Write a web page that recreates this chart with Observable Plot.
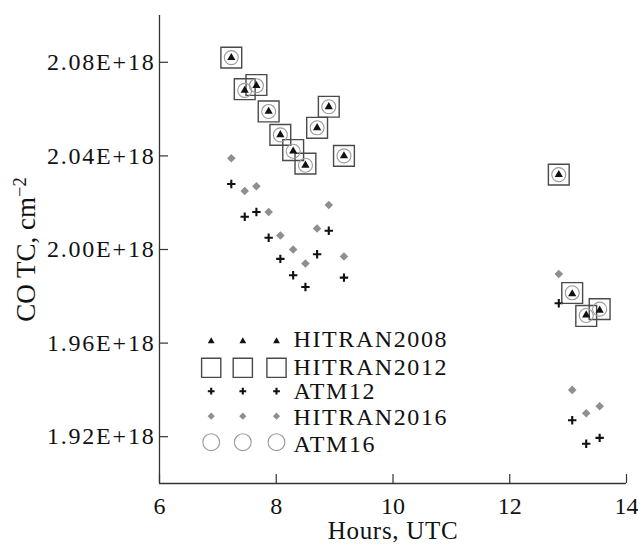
<!DOCTYPE html>
<html>
<head>
<meta charset="utf-8">
<script src="https://cdn.jsdelivr.net/npm/d3@7"></script>
<script src="https://cdn.jsdelivr.net/npm/@observablehq/plot@0.6"></script>
<style>
  html, body { margin: 0; padding: 0; background: #fff; }
  #chart { width: 638px; height: 544px; }
</style>
</head>
<body>
<div id="chart"></div>
<script>
// ---- data ----
const hours = [7.23, 7.46, 7.66, 7.87, 8.07, 8.29, 8.50, 8.70, 8.90, 9.16, 12.84, 13.07, 13.31, 13.54];
const hitran2008 = [2.082e18, 2.068e18, 2.070e18, 2.059e18, 2.049e18, 2.042e18, 2.036e18, 2.052e18, 2.061e18, 2.040e18, 2.032e18, 1.981e18, 1.972e18, 1.974e18];
const hitran2012 = [2.082e18, 2.0685e18, 2.0703e18, 2.059e18, 2.049e18, 2.0425e18, 2.0367e18, 2.052e18, 2.061e18, 2.040e18, 2.032e18, 1.9814e18, 1.9716e18, 1.9745e18];
const atm12 = [2.028e18, 2.014e18, 2.016e18, 2.005e18, 1.996e18, 1.989e18, 1.984e18, 1.998e18, 2.008e18, 1.988e18, 1.977e18, 1.927e18, 1.917e18, 1.9195e18];
const hitran2016 = [2.039e18, 2.025e18, 2.027e18, 2.016e18, 2.006e18, 2.000e18, 1.994e18, 2.009e18, 2.019e18, 1.997e18, 1.9895e18, 1.940e18, 1.930e18, 1.933e18];
const atm16 = [2.082e18, 2.068e18, 2.070e18, 2.059e18, 2.049e18, 2.042e18, 2.036e18, 2.052e18, 2.061e18, 2.040e18, 2.032e18, 1.9815e18, 1.9718e18, 1.9745e18];

const xTicks = [6, 8, 10, 12, 14];
const yTicks = [1.92e18, 1.96e18, 2.00e18, 2.04e18, 2.08e18];
const seriesNames = ["HITRAN2008", "HITRAN2012", "ATM12", "HITRAN2016", "ATM16"];
const xTitle = "Hours, UTC";
const yTitle = "CO TC, cm";
const yTitleSup = "\u22122";

// ---- layout / style ----
const W = 638, H = 544;
const mL = 159, mR = 12, mT = 15, mB = 61;
const frameW = W - mL - mR, frameH = H - mT - mB;
const FONT = "'Liberation Serif', 'Times New Roman', serif";
const axisColor = "#333";

// custom symbols where Plot's r is the half-size in pixels
const half = size => Math.sqrt(size / Math.PI);
const symTriangle = {draw(c, size) { const w = half(size), h = w * Math.sqrt(3);
  c.moveTo(0, -h * 2 / 3); c.lineTo(w, h / 3); c.lineTo(-w, h / 3); c.closePath(); }};
const symSquare = {draw(c, size) { const s = half(size); c.rect(-s, -s, 2 * s, 2 * s); }};
const symPlus = {draw(c, size) { const s = half(size);
  c.moveTo(-s, 0); c.lineTo(s, 0); c.moveTo(0, -s); c.lineTo(0, s); }};
const symDiamond = {draw(c, size) { const s = half(size);
  c.moveTo(0, -s); c.lineTo(s, 0); c.lineTo(0, s); c.lineTo(-s, 0); c.closePath(); }};
const symCircle = {draw(c, size) { const s = half(size); c.moveTo(s, 0); c.arc(0, 0, s, 0, 2 * Math.PI); }};

const styles = {
  HITRAN2008: {symbol: symTriangle, fill: "#111", stroke: "none", r: 4.1, lr: 3.4, sw: 0},
  HITRAN2012: {symbol: symSquare, fill: "none", stroke: "#4a4a4a", r: 10.4, lr: 9.6, sw: 1.4},
  ATM12: {symbol: symPlus, fill: "none", stroke: "#111", r: 4.2, lr: 3.4, sw: 2.1},
  HITRAN2016: {symbol: symDiamond, fill: "#8f8f8f", stroke: "none", r: 4.3, lr: 3.6, sw: 0},
  ATM16: {symbol: symCircle, fill: "none", stroke: "#9a9a9a", r: 7.0, lr: 8.4, sw: 1.1}
};
const seriesData = {
  HITRAN2008: hitran2008, HITRAN2012: hitran2012, ATM12: atm12, HITRAN2016: hitran2016, ATM16: atm16
};
const rows = (vals) => hours.map((h, i) => ({h, v: vals[i]}));

function dotMark(name) {
  const s = styles[name];
  return Plot.dot(rows(seriesData[name]), {
    x: "h", y: "v", symbol: () => s.symbol, r: s.r,
    fill: s.fill, stroke: s.stroke, strokeWidth: s.sw
  });
}

// legend (pixel offsets from the top-left of the frame)
const legendRowDy = [325.7, 352.3, 375.7, 400.7, 426.7];
const legendTextDy = [324, 351.6, 375.6, 402.3, 429];
const legendColDx = [51.7, 83.3, 117];
const legendTextDx = 134;
const legendMarks = [];
seriesNames.forEach((name, i) => {
  const s = styles[name];
  legendColDx.forEach(dx => {
    legendMarks.push(Plot.dot([name], {
      frameAnchor: "top-left", dx, dy: legendRowDy[i],
      symbol: () => s.symbol, r: s.lr, fill: s.fill, stroke: s.stroke, strokeWidth: s.sw
    }));
  });
  legendMarks.push(Plot.text([name], {
    frameAnchor: "top-left", dx: legendTextDx, dy: legendTextDy[i],
    text: d => d, textAnchor: "start", lineAnchor: "middle",
    fontSize: 24, fill: "#111", fontFamily: FONT
  }));
});

const chart = Plot.plot({
  width: W, height: H,
  marginLeft: mL, marginRight: mR, marginTop: mT, marginBottom: mB,
  style: {fontFamily: FONT, fontSize: "24px", color: "#111", background: "#fff"},
  x: {domain: [6, 14], ticks: xTicks, tickSize: 0, tickPadding: 13, tickFormat: d => String(d), label: null},
  y: {domain: [1.9e18, 2.1e18], ticks: yTicks, tickSize: 0, tickPadding: 4,
      tickFormat: d => (d / 1e18).toFixed(2) + "E+18", label: null},
  marks: [
    Plot.ruleX([6], {stroke: axisColor, strokeWidth: 1.3}),
    Plot.ruleY([1.9e18], {stroke: axisColor, strokeWidth: 1.3}),
    Plot.tickY(yTicks, {y: d => d, insetRight: frameW - 9, stroke: axisColor, strokeWidth: 1.2}),
    Plot.tickX(xTicks, {x: d => d, insetTop: frameH - 9, stroke: axisColor, strokeWidth: 1.2}),
    dotMark("HITRAN2016"),
    dotMark("ATM12"),
    dotMark("HITRAN2012"),
    dotMark("ATM16"),
    dotMark("HITRAN2008"),
    ...legendMarks,
    Plot.text([xTitle], {frameAnchor: "bottom", dy: 47, text: d => d, lineAnchor: "middle",
      fontSize: 25, fill: "#111", fontFamily: FONT}),
    Plot.text([yTitle], {frameAnchor: "left", dx: -133, text: d => d, rotate: -90,
      lineAnchor: "middle", textAnchor: "middle", fontSize: 27, fill: "#111", fontFamily: FONT})
  ]
});

document.getElementById("chart").appendChild(chart);

const svgTexts = d3.select(chart).selectAll("text");
// superscript on the y title
svgTexts.filter(function () { return this.textContent === yTitle; })
  .append("tspan").attr("dy", "-0.5em").attr("font-size", "0.68em").text(yTitleSup);
// the reference's serif face sets wider than Liberation Serif: widen a little
svgTexts.filter(function () { return /E\+18$/.test(this.textContent); })
  .style("letter-spacing", "1.8px");
svgTexts.filter(function () { return seriesNames.includes(this.textContent); })
  .style("letter-spacing", "1.6px");
svgTexts.filter(function () { return this.textContent === xTitle; })
  .style("letter-spacing", "0.7px");
</script>
</body>
</html>
